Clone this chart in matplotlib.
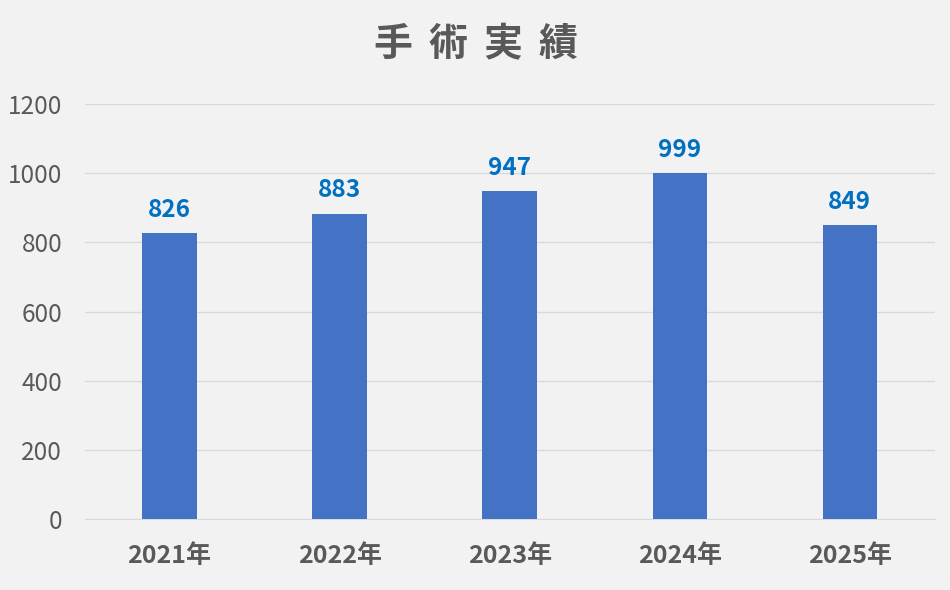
import matplotlib.pyplot as plt

plt.rcParams['font.family'] = ['Noto Sans CJK JP', 'DejaVu Sans']

years = ['2021年', '2022年', '2023年', '2024年', '2025年']
cases = [826, 883, 947, 999, 849]
title_chars = ['手', '術', '実', '績']

fig = plt.figure(figsize=(9.5, 5.9), dpi=100, facecolor='#F2F2F2')
ax = fig.add_axes([0.089, 0.120, 0.895, 0.704], facecolor='#F2F2F2')

x = range(len(years))
bars = ax.bar(x, cases, width=0.32, color='#4472C4', zorder=3)
for b, v in zip(bars, cases):
    ax.annotate(str(v), (b.get_x() + b.get_width() / 2, v), xytext=(0, 8),
                textcoords='offset points', ha='center', va='bottom',
                fontsize=17.5, fontweight='bold', color='#0070C0')

ax.set_xlim(-0.5, 4.5)
ax.set_ylim(0, 1200)
ax.set_yticks(range(0, 1201, 200))
ax.set_xticks(list(x))
ax.set_xticklabels(years, fontsize=18, fontweight='bold', color='#595959')
ax.tick_params(axis='y', labelsize=17.5, labelcolor='#595959', length=0, pad=16)
ax.tick_params(axis='x', length=0, pad=18)
ax.grid(axis='y', color='#D9D9D9', linewidth=1, zorder=0)
for s in ['top', 'right', 'left']:
    ax.spines[s].set_visible(False)
ax.spines['bottom'].set_color('#D9D9D9')

# title with wide letter spacing
for i, ch in enumerate(title_chars):
    fig.text((475 + (i - 1.5) * 55) / 950, 0.924, ch, ha='center', va='center',
             fontsize=28, fontweight='bold', color='#595959')

fig.savefig('out.png', dpi=100, facecolor=fig.get_facecolor())
